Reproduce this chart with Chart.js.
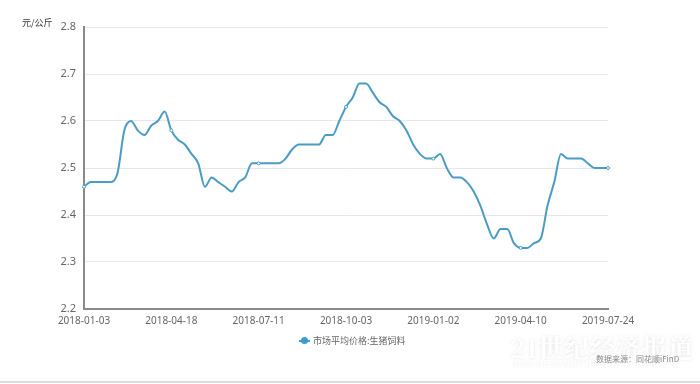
<!DOCTYPE html>
<html>
<head>
<meta charset="utf-8">
<script src="https://cdn.jsdelivr.net/npm/chart.js@4"></script>
<style>
  html, body { margin:0; padding:0; background:#fff; }
  #wrap { position:relative; width:700px; height:384px; overflow:hidden; font-family:"Noto Sans","Noto Sans CJK SC",sans-serif; }
  #unit { position:absolute; left:22px; top:16px; font-size:9px; color:#333; font-family:"Noto Sans CJK SC",sans-serif; }
  #legend { position:absolute; left:299px; top:334px; font-size:9px; color:#666; font-family:"Noto Sans CJK SC",sans-serif; display:flex; align-items:center; }
  #legend .ico { position:relative; width:11px; height:10px; margin-right:3px; }
  #legend .ico i { position:absolute; left:0; top:4px; width:11px; height:2px; background:#3d9bd3; }
  #legend .ico b { position:absolute; left:2px; top:1px; width:7px; height:7px; border-radius:50%; background:#3d9bd3; }
  #mark { position:absolute; left:510px; top:328px; color:#fff; font-family:"Noto Serif CJK SC","Noto Sans CJK SC",serif; font-weight:bold; font-size:26px;
          text-shadow:0 0 3px rgba(0,0,0,0.09), 0 0 7px rgba(0,0,0,0.06); }
  #mark2 { position:absolute; left:512px; top:358px; color:#fff; font-style:italic; font-family:"Liberation Serif",serif; font-size:10px; font-weight:bold;
          text-shadow:0 0 3px rgba(0,0,0,0.1); }
  #src { position:absolute; left:596px; top:353px; font-size:8px; color:#888; font-family:"Noto Sans CJK SC",sans-serif; }
  #bottomline { position:absolute; left:0; top:381px; width:700px; height:2px; background:#ddd; }
</style>
</head>
<body>
<div id="wrap">
  <canvas id="chart" width="700" height="384"></canvas>
  <div id="unit">元/公斤</div>
  <div id="legend"><span class="ico"><i></i><b></b></span><span>市场平均价格:生猪饲料</span></div>
  <div id="mark">21世纪经济报道</div>
  <div id="mark2">21ST CENTURY BUSINESS HERALD</div>
  <div id="src">数据来源：同花顺iFinD</div>
  <div id="bottomline"></div>
</div>
<script>
const seriesName = '市场平均价格:生猪饲料';
const tickLabels = ['2018-01-03', '2018-04-18', '2018-07-11', '2018-10-03', '2019-01-02', '2019-04-10', '2019-07-24'];
const tickEvery = 13;
const prices = [
  2.46, 2.47, 2.47, 2.47, 2.47, 2.49, 2.58, 2.60, 2.58, 2.57,
  2.59, 2.60, 2.62, 2.58, 2.56, 2.55, 2.53, 2.51, 2.46, 2.48,
  2.47, 2.46, 2.45, 2.47, 2.48, 2.51, 2.51, 2.51, 2.51, 2.51,
  2.52, 2.54, 2.55, 2.55, 2.55, 2.55, 2.57, 2.57, 2.60, 2.63,
  2.65, 2.68, 2.68, 2.66, 2.64, 2.63, 2.61, 2.60, 2.58, 2.55,
  2.53, 2.52, 2.52, 2.53, 2.50, 2.48, 2.48, 2.47, 2.45, 2.42,
  2.38, 2.35, 2.37, 2.37, 2.34, 2.33, 2.33, 2.34, 2.35, 2.42,
  2.47, 2.53, 2.52, 2.52, 2.52, 2.51, 2.50, 2.50, 2.50
];

const labels = prices.map((v, i) => i % tickEvery === 0 ? tickLabels[i / tickEvery] : '');
const lineColor = '#4a9bc6';

new Chart(document.getElementById('chart').getContext('2d'), {
  type: 'line',
  data: {
    labels: labels,
    datasets: [{
      label: seriesName,
      data: prices,
      borderColor: lineColor,
      borderWidth: 2,
      cubicInterpolationMode: 'monotone',
      pointRadius: prices.map((v, i) => i % tickEvery === 0 ? 1.5 : 0),
      pointBackgroundColor: '#fff',
      pointBorderColor: lineColor,
      pointBorderWidth: 1,
      fill: false
    }]
  },
  options: {
    responsive: false,
    animation: false,
    layout: { padding: { left: 0, top: 27, right: 92, bottom: 55 } },
    plugins: { legend: { display: false }, tooltip: { enabled: false } },
    scales: {
      x: {
        offset: false,
        afterFit: s => { s.height = 20; },
        grid: { display: false, drawTicks: false },
        border: { display: true, color: '#8a8a8a', width: 2 },
        ticks: {
          autoSkip: false, maxRotation: 0, padding: 6,
          color: '#666', font: { family: 'Noto Sans', size: 10 },
          callback: function(v, i) { return labels[i]; }
        }
      },
      y: {
        min: 2.2, max: 2.8,
        afterFit: s => { s.width = 84; },
        grid: { color: '#e8e8e8', lineWidth: 1, drawTicks: false },
        border: { display: true, color: '#8a8a8a', width: 2 },
        ticks: {
          stepSize: 0.1, padding: 8,
          color: '#666', font: { family: 'Noto Sans', size: 11 },
          callback: v => v.toFixed(1)
        }
      }
    }
  }
});
</script>
</body>
</html>
